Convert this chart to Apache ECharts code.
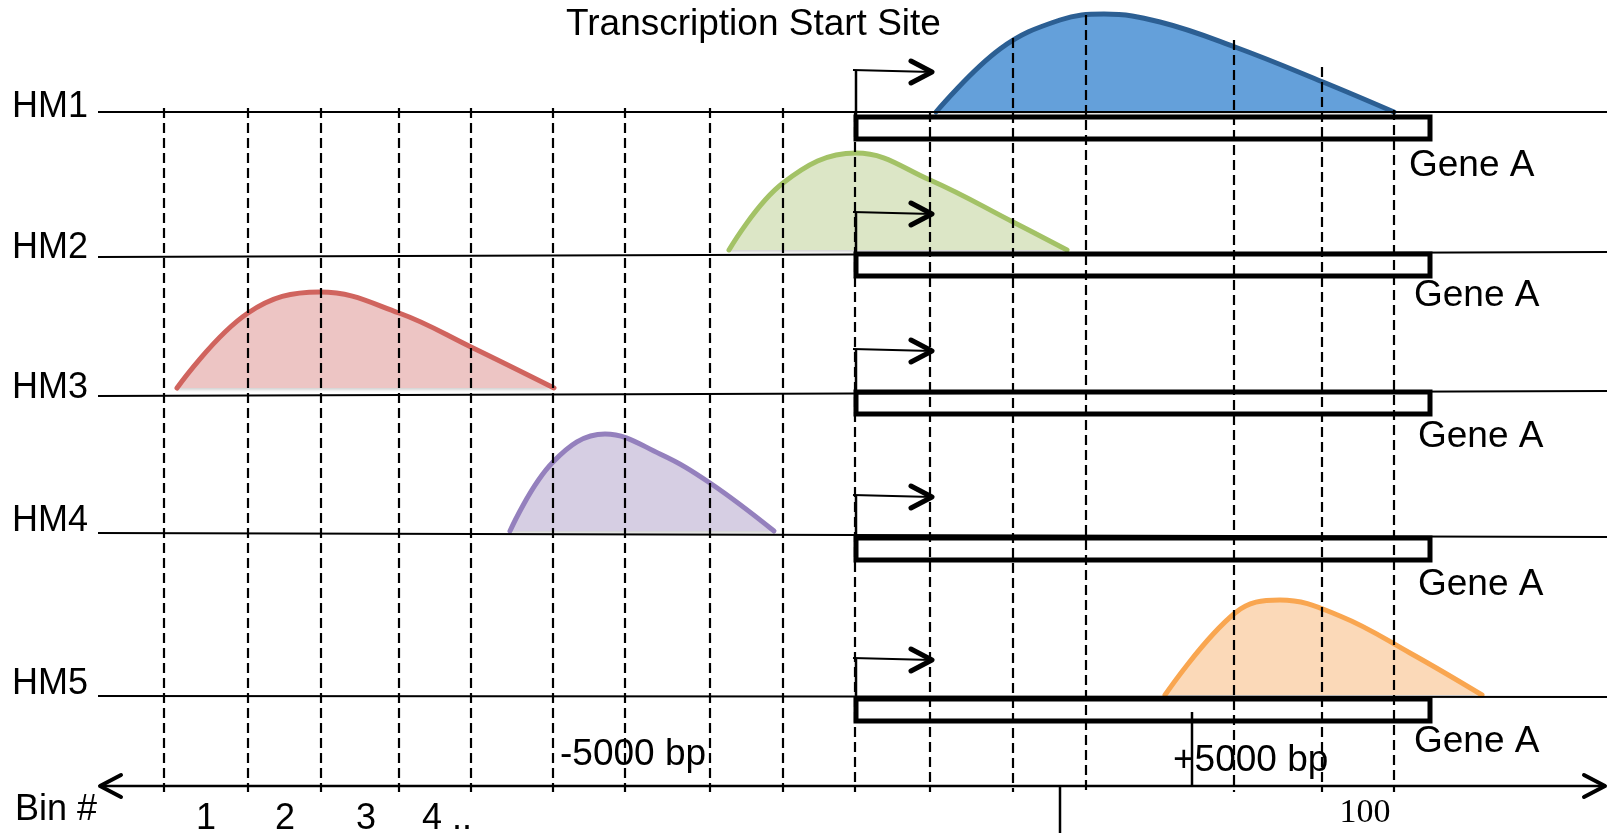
<!DOCTYPE html>
<html>
<head>
<meta charset="utf-8">
<script src="https://cdn.jsdelivr.net/npm/echarts@6/dist/echarts.min.js"></script>
<style>
  html, body { margin: 0; padding: 0; background: #fff; }
  #main { width: 1610px; height: 833px; }
</style>
</head>
<body>
<div id="main"></div>
<script>
// diagram units: x 0..1610 across, y 0..833 down the page
var trackNames = ['HM1', 'HM2', 'HM3', 'HM4', 'HM5'];
var trackLabelY = [107, 248, 388, 521, 684];
var trackLineLeftY = [112, 257, 396, 533, 696];
var trackLineRightY = [112, 252, 391, 537, 697];
var trackStartX = 98, trackEndX = 1607;

var geneStartX = 856, geneEndX = 1430, geneHeight = 22;
var geneBoxTop = [117, 254, 392, 538, 699];
var geneLabelX = [1409, 1414, 1418, 1418, 1414];
var geneLabelY = [166, 296, 437, 585, 742];

var tssArrowY = [70, 212, 349, 495, 658];
var tssArrowTipX = 932;

// vertical dashed bin boundaries
var binLineX = [164, 248, 321, 399, 471, 553, 625, 710, 783, 855, 930, 1013, 1086, 1234, 1322, 1394];
var binLineTop = [108, 108, 108, 108, 108, 108, 108, 108, 108, 112, 112, 38, 15, 40, 67, 110];
var binLineBottom = 792;

// modification peaks
var peakHM1 = [[936, 112], [1000, 49], [1060, 20], [1104, 14], [1160, 22], [1235, 47], [1323, 82], [1394, 112]];
var peakHM2 = [[729, 250], [783, 183], [856, 153], [930, 180], [1013, 222], [1067, 250]];
var peakHM3 = [[177, 388], [248, 313], [320, 292], [399, 313], [471, 347], [554, 388]];
var peakHM4 = [[510, 531], [553, 462], [605, 434], [660, 454], [710, 483], [774, 531]];
var peakHM5 = [[1165, 695], [1235, 613], [1280, 600], [1340, 616], [1410, 653], [1482, 695]];

var axisY = 786, axisLeftX = 100, axisRightX = 1605;
var binLabels = ['1', '2', '3', '4 ..'];
var binLabelX = [206, 285, 366, 447];
var binLabelY = 819;

var myChart = echarts.init(document.getElementById('main'));
var FONT = '"Liberation Sans", Arial, sans-serif';

function segmentSeries(rows, width, dash, z) {
  return {
    type: 'custom', z: z, silent: true, data: rows,
    renderItem: function (params, api) {
      var a = api.coord([api.value(0), api.value(1)]);
      var b = api.coord([api.value(2), api.value(3)]);
      return {
        type: 'line',
        shape: { x1: a[0], y1: a[1], x2: b[0], y2: b[1] },
        style: { stroke: '#000', lineWidth: width, lineDash: dash || null }
      };
    }
  };
}

function chevronSeries(rows, width) {
  // row: tipX, tipY, armDx, armDy
  return {
    type: 'custom', z: 6, silent: true, data: rows,
    renderItem: function (params, api) {
      var tx = api.value(0), ty = api.value(1), dx = api.value(2), dy = api.value(3);
      var pts = [api.coord([tx + dx, ty - dy]), api.coord([tx, ty]), api.coord([tx + dx, ty + dy])];
      return {
        type: 'polyline', shape: { points: pts },
        style: { stroke: '#000', fill: null, lineWidth: width, lineJoin: 'round', lineCap: 'round' }
      };
    }
  };
}

function textSeries(xs, ys, texts, font, align) {
  return {
    type: 'custom', z: 10, silent: true,
    data: xs.map(function (x, i) { return [x, ys[i]]; }),
    renderItem: function (params, api) {
      var p = api.coord([api.value(0), api.value(1)]);
      return {
        type: 'text', x: p[0], y: p[1],
        style: { text: texts[params.dataIndex], font: font, fill: '#000', align: align, verticalAlign: 'middle' }
      };
    }
  };
}

function peakSeries(pts, stroke, fill) {
  return {
    type: 'line', data: pts, smooth: 0.4, symbol: 'none', z: 2, silent: true,
    lineStyle: { color: stroke, width: 5, cap: 'round' },
    areaStyle: { color: fill, opacity: 1, origin: pts[0][1],
      shadowColor: 'rgba(0,0,0,0.18)', shadowBlur: 3, shadowOffsetY: 2 }
  };
}

// build segment rows
var trackRows = trackNames.map(function (n, i) {
  return [trackStartX, trackLineLeftY[i], trackEndX, trackLineRightY[i]];
});
var binRows = binLineX.map(function (x, i) { return [x, binLineTop[i], x, binLineBottom]; });
var stemRows = tssArrowY.map(function (y, i) { return [geneStartX, y, geneStartX, geneBoxTop[i]]; });
var shaftRows = tssArrowY.map(function (y) { return [geneStartX - 3, y, tssArrowTipX, y + 2]; });
var arrowHeads = tssArrowY.map(function (y) { return [tssArrowTipX, y + 2, -21, 11]; });
var axisRows = [[axisLeftX, axisY, axisRightX, axisY], [1192, 712, 1192, axisY], [1060, axisY, 1060, 833]];
var axisHeads = [[axisLeftX, axisY, 21, 11], [axisRightX, axisY, -21, 11]];

var option = {
  animation: false,
  grid: { left: 0, right: 0, top: 0, bottom: 0 },
  xAxis: { type: 'value', min: 0, max: 1610, show: false },
  yAxis: { type: 'value', min: 0, max: 833, inverse: true, show: false },
  series: [
    peakSeries(peakHM1, '#2C5F93', '#64A0DA'),
    peakSeries(peakHM2, '#A3C266', '#DCE6C6'),
    peakSeries(peakHM3, '#D0645E', '#EDC5C4'),
    peakSeries(peakHM4, '#9480BD', '#D6CEE3'),
    peakSeries(peakHM5, '#F9A650', '#FBD9B8'),
    segmentSeries(binRows, 2.2, [10, 5], 3),
    segmentSeries(trackRows, 2, null, 4),
    segmentSeries(stemRows, 2.5, null, 5),
    segmentSeries(shaftRows, 2, null, 5),
    chevronSeries(arrowHeads, 5),
    segmentSeries(axisRows, 2.5, null, 5),
    chevronSeries(axisHeads, 4),
    {
      type: 'custom', z: 5, silent: true,
      data: geneBoxTop.map(function (t) { return [geneStartX, t, geneEndX, t + geneHeight]; }),
      renderItem: function (params, api) {
        var a = api.coord([api.value(0), api.value(1)]);
        var b = api.coord([api.value(2), api.value(3)]);
        return {
          type: 'rect',
          shape: { x: a[0], y: a[1], width: b[0] - a[0], height: b[1] - a[1] },
          style: { stroke: '#000', fill: null, lineWidth: 5 }
        };
      }
    },
    textSeries(trackNames.map(function () { return 12; }), trackLabelY, trackNames, '36px ' + FONT, 'left'),
    textSeries(geneLabelX, geneLabelY, geneLabelX.map(function () { return 'Gene A'; }), '37px ' + FONT, 'left'),
    textSeries([566], [25], ['Transcription Start Site'], '37px ' + FONT, 'left'),
    textSeries([560], [755], ['-5000 bp'], '37px ' + FONT, 'left'),
    textSeries([1173], [761], ['+5000 bp'], '37px ' + FONT, 'left'),
    textSeries([15], [810], ['Bin #'], '36px ' + FONT, 'left'),
    textSeries(binLabelX, binLabelX.map(function () { return binLabelY; }), binLabels, '36px ' + FONT, 'center'),
    textSeries([1365], [813], ['100'], '34px "Liberation Serif", "Times New Roman", serif', 'center')
  ]
};
myChart.setOption(option);
</script>
</body>
</html>
